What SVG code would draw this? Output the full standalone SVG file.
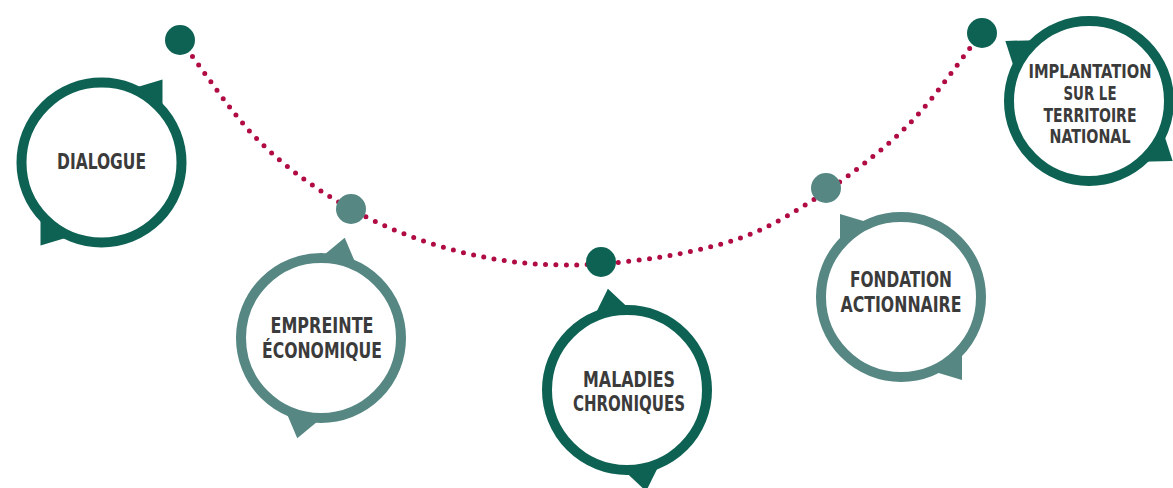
<svg xmlns="http://www.w3.org/2000/svg" xmlns:xlink="http://www.w3.org/1999/xlink" width="1173" height="488" viewBox="0 0 1173 488">
  <style>
    .trail{fill:none;stroke:#b00c43;stroke-width:5;stroke-linecap:round;stroke-dasharray:0 10.4}
    .ring{fill:#fff;stroke-width:10}
    .dark .ring{stroke:#0e6254}
    .dark .tab,.stop.dark{fill:#0e6254}
    .soft .ring{stroke:#568783}
    .soft .tab,.stop.soft{fill:#568783}
    .lbl{font-family:"DejaVu Sans Condensed","Liberation Sans Narrow","Liberation Sans",sans-serif;font-weight:700;font-size:20.5px;fill:#3b3b3b;text-anchor:middle}
    .sm{font-size:19px}
  </style>
  <defs>
    <!-- speech-bubble tail, drawn before the ring so the ring hides its base -->
    <path id="tail" d="M31,-74 L61,-83 L61,-52 Z"/>
  </defs>

  <g id="connectors">
    <path class="trail" d="M180,40 C206.3,73.7 230.5,112.8 259,141 C287.5,169.2 318,190.7 351,209 C384,227.3 421,241.7 457,251 C493,260.3 527.7,265 567,265 C606.3,265 656.3,259.2 693,251 C729.7,242.8 752.5,235.7 787,216 C821.5,196.3 867.5,163.5 900,133 C932.5,102.5 954.7,66.3 982,33"/>
    <circle class="stop dark" cx="180" cy="40" r="15"/>
    <circle class="stop soft" cx="351" cy="209" r="15"/>
    <circle class="stop dark" cx="601" cy="262" r="15"/>
    <circle class="stop soft" cx="826" cy="188" r="15"/>
    <circle class="stop dark" cx="982" cy="33" r="15"/>
  </g>

  <g id="dialogue" class="dark" transform="translate(101.5,162.5)">
    <use class="tab" xlink:href="#tail"/>
    <use class="tab" xlink:href="#tail" transform="rotate(180)"/>
    <circle class="ring" r="80"/>
    <text class="lbl" x="0" y="6" textLength="89" lengthAdjust="spacingAndGlyphs">DIALOGUE</text>
  </g>

  <g id="empreinte" class="soft" transform="translate(321,338)">
    <use class="tab" xlink:href="#tail" transform="rotate(-23)"/>
    <use class="tab" xlink:href="#tail" transform="rotate(157)"/>
    <circle class="ring" r="80"/>
    <text class="lbl" x="1" y="-5" textLength="103" lengthAdjust="spacingAndGlyphs">EMPREINTE</text>
    <text class="lbl" x="1" y="20" textLength="120" lengthAdjust="spacingAndGlyphs">ÉCONOMIQUE</text>
  </g>

  <g id="maladies" class="dark" transform="translate(627,390)">
    <use class="tab" xlink:href="#tail" transform="rotate(-47)"/>
    <use class="tab" xlink:href="#tail" transform="rotate(133)"/>
    <circle class="ring" r="80"/>
    <text class="lbl" x="2" y="-3" textLength="92" lengthAdjust="spacingAndGlyphs">MALADIES</text>
    <text class="lbl" x="2" y="21" textLength="112" lengthAdjust="spacingAndGlyphs">CHRONIQUES</text>
  </g>

  <g id="fondation" class="soft" transform="translate(901,297)">
    <use class="tab" xlink:href="#tail" transform="scale(-1,1)"/>
    <use class="tab" xlink:href="#tail" transform="rotate(180) scale(-1,1)"/>
    <circle class="ring" r="80"/>
    <text class="lbl" x="0" y="-10" textLength="102" lengthAdjust="spacingAndGlyphs">FONDATION</text>
    <text class="lbl" x="0" y="15" textLength="121" lengthAdjust="spacingAndGlyphs">ACTIONNAIRE</text>
  </g>

  <g id="implantation" class="dark" transform="translate(1089,101)">
    <use class="tab" xlink:href="#tail" transform="rotate(-18) scale(-1,1)"/>
    <use class="tab" xlink:href="#tail" transform="rotate(162) scale(-1,1)"/>
    <circle class="ring" r="80"/>
    <text class="lbl sm" x="1" y="-23" textLength="123" lengthAdjust="spacingAndGlyphs">IMPLANTATION</text>
    <text class="lbl sm" x="1" y="-1.5" textLength="53" lengthAdjust="spacingAndGlyphs">SUR LE</text>
    <text class="lbl sm" x="1" y="20.5" textLength="93" lengthAdjust="spacingAndGlyphs">TERRITOIRE</text>
    <text class="lbl sm" x="1" y="42" textLength="81" lengthAdjust="spacingAndGlyphs">NATIONAL</text>
  </g>
</svg>
